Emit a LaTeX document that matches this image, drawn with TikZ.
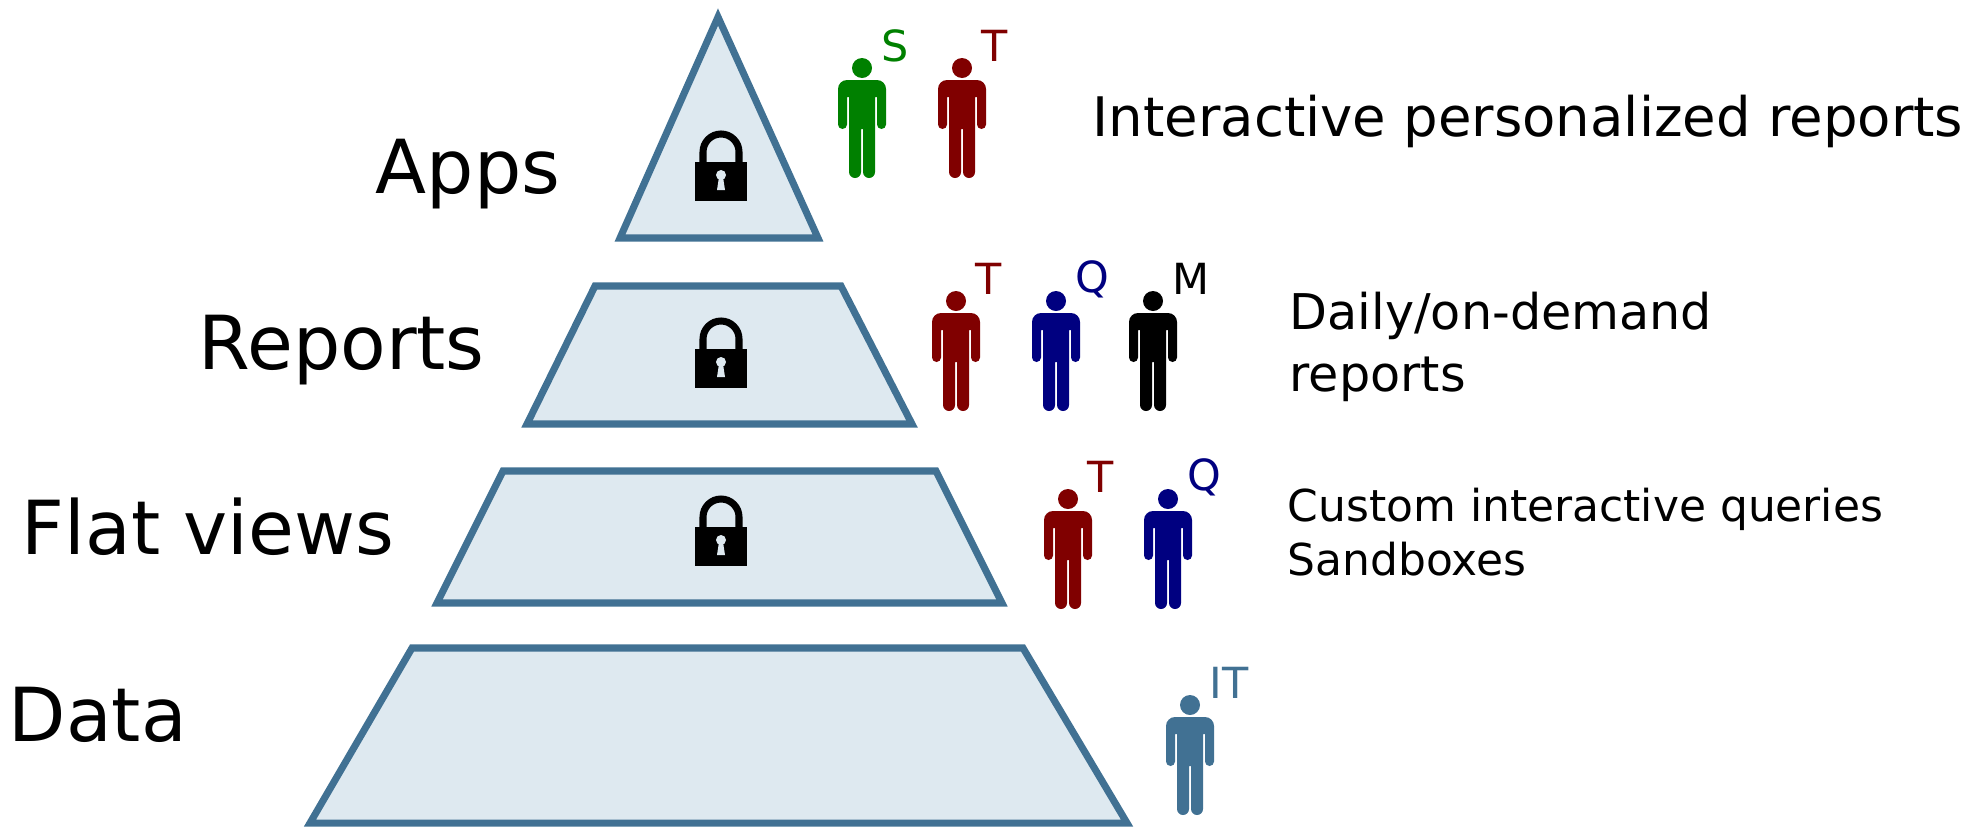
\documentclass[tikz,border=0pt]{standalone}
\usepackage{fontspec}
\setmainfont{DejaVu Sans}
\definecolor{bleupyr}{RGB}{65,113,147}
\definecolor{fondpyr}{RGB}{222,233,240}
\definecolor{vertS}{RGB}{0,128,0}
\definecolor{rougeT}{RGB}{128,0,0}
\definecolor{bleuQ}{RGB}{0,0,128}
\tikzstyle{etage}=[draw=bleupyr,fill=fondpyr,line width=2pt,join=miter]
\tikzstyle{niveau}=[anchor=base west,inner sep=0,font=\fontsize{21.2}{25}\selectfont]
\tikzstyle{lettre}=[anchor=west,inner sep=0,font=\fontsize{12.2}{15}\selectfont]
\tikzstyle{grandtexte}=[anchor=base west,inner sep=0,font=\fontsize{15.5}{19}\selectfont]
\tikzstyle{texteA}=[anchor=west,inner sep=0,align=left,font=\fontsize{14}{17.6}\selectfont]
\tikzstyle{texteB}=[anchor=west,inner sep=0,align=left,font=\fontsize{12.5}{15.4}\selectfont]
% cadenas, #1 = bas du corps au milieu
\newcommand{\cadenas}[1]{
  \begin{scope}[shift={#1}]
  \draw[line width=2pt] (-18,38) -- (-18,49) arc (180:0:18) -- (18,38);
  \fill (-26,0) rectangle (26,39);
  \fill[fondpyr] (0,26) circle (5);
  \fill[fondpyr] (-4,11) -- (4,11) -- (2,24) -- (-2,24) -- cycle;
  \end{scope}
}
% personnage, #1 = centre de la tete, #2 = couleur, #3 = nom du noeud, #4 = lettre
\newcommand{\personne}[4]{
  \begin{scope}[shift={#1}]
  \fill[#2] (0,0) circle (10);
  \fill[#2] (-15,-12) -- (15,-12) arc (90:0:9) -- (24,-56.5) arc (0:-180:4.5)
    -- (15,-29) -- (13,-29) -- (13,-104) arc (0:-180:6) -- (1,-61) -- (-1,-61)
    -- (-1,-104) arc (0:-180:6) -- (-13,-29) -- (-15,-29) -- (-15,-56.5)
    arc (0:-180:4.5) -- (-24,-21) arc (180:90:9) -- cycle;
  \node[lettre,text=#2] (#3) at (19,22) {#4};
  \end{scope}
}
\begin{document}
\begin{tikzpicture}[x=0.01cm,y=0.01cm]
\useasboundingbox (0,0) rectangle (1986,826);

%pyramide
\draw[etage] (718,809) -- (620,588) -- (818,588) -- cycle;
\draw[etage] (595,540) -- (841,540) -- (912,402) -- (527,402) -- cycle;
\draw[etage] (503,355) -- (936,355) -- (1002,223) -- (437,223) -- cycle;
\draw[etage] (412,178) -- (1023,178) -- (1127,3) -- (310,3) -- cycle;

%cadenas
\foreach \Y in {625,438,260}
{\cadenas{(721,\Y)}}

%niveaux
\node[niveau] (apps) at (375,633) {Apps};
\node[niveau] (reports) at (198,457) {Reports};
\node[niveau] (flat) at (21,272) {Flat views};
\node[niveau] (data) at (8,85) {Data};

%personnages
\personne{(862,758)}{vertS}{lettreS}{S}
\personne{(962,758)}{rougeT}{lettreTa}{T}
\personne{(956,525)}{rougeT}{lettreTb}{T}
\personne{(1056,525)}{bleuQ}{lettreQa}{Q}
\personne{(1153,525)}{black}{lettreM}{M}
\personne{(1068,327)}{rougeT}{lettreTc}{T}
\personne{(1168,327)}{bleuQ}{lettreQb}{Q}
\personne{(1190,121)}{bleupyr}{lettreIT}{IT}

%textes
\node[grandtexte] (interactif) at (1092,690) {Interactive personalized reports};
\node[texteA] (quotidien) at (1289,479) {Daily/on-demand\\reports};
\node[texteB] (requetes) at (1287,294) {Custom interactive queries\\Sandboxes};
\end{tikzpicture}
\end{document}
